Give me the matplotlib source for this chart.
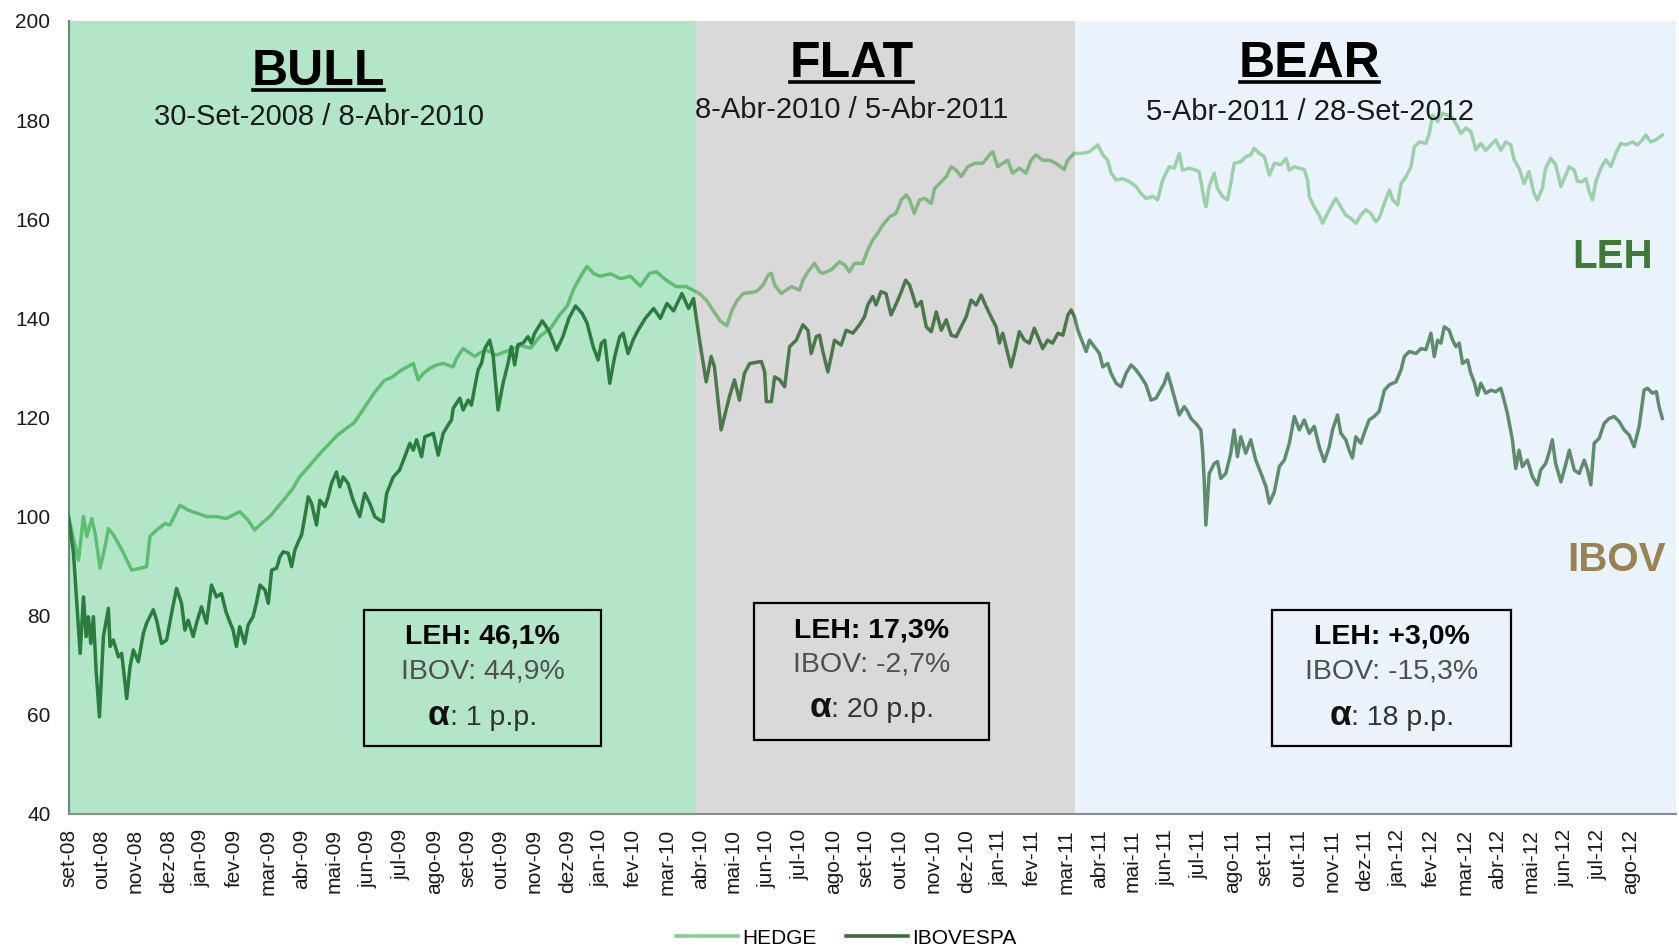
import matplotlib
matplotlib.use("Agg")
import matplotlib.pyplot as plt
from matplotlib import font_manager
from matplotlib.lines import Line2D
from matplotlib.patches import Rectangle

# x values are months since 30-Set-2008 (base 100)
hedge_m = [0.0, 0.3, 0.45, 0.55, 0.7, 0.8, 0.95, 1.1, 1.2, 1.35, 1.55, 1.7, 1.9, 2.1, 2.35, 2.45,
           2.65, 2.9, 3.05, 3.2, 3.35, 3.6, 3.85, 4.15, 4.45, 4.75, 5.15, 5.4, 5.6, 5.8, 6.05, 6.3,
           6.55, 6.75, 6.95, 7.15, 7.6, 8.1, 8.6, 8.9, 9.2, 9.5, 9.7, 10.0, 10.37, 10.52, 10.67,
           10.87, 11.07, 11.27, 11.57, 11.67, 11.87, 12.22, 12.37, 12.57, 12.87, 13.27, 13.6, 13.9,
           14.2, 14.5, 14.75, 15.0, 15.2, 15.45, 15.6, 15.8, 16.0, 16.3, 16.6, 16.9, 17.2, 17.48,
           17.68, 17.98, 18.28, 18.58, 18.78, 18.98, 19.18, 19.4, 19.6, 19.8, 19.95, 20.1, 20.29,
           20.69, 20.89, 21.04, 21.14, 21.24, 21.44, 21.59, 21.74, 21.99, 22.09, 22.24, 22.44,
           22.59, 22.69, 22.94, 23.19, 23.34, 23.49, 23.64, 23.89, 24.04, 24.19, 24.34, 24.49,
           24.7, 24.89, 25.05, 25.2, 25.3, 25.44, 25.6, 25.75, 25.95, 26.05, 26.2, 26.4, 26.55,
           26.7, 26.85, 27.05, 27.25, 27.5, 27.7, 27.8, 27.95, 28.1, 28.25, 28.4, 28.6, 28.8,
           28.95, 29.1, 29.3, 29.5, 29.7, 29.95, 30.05, 30.25, 30.5, 30.7, 30.96, 31.11, 31.26,
           31.36, 31.51, 31.71, 31.91, 32.11, 32.26, 32.41, 32.61, 32.76, 32.91, 33.11, 33.26,
           33.41, 33.51, 33.71, 33.91, 34.01, 34.16, 34.21, 34.31, 34.46, 34.56, 34.71, 34.86,
           34.96, 35.06, 35.26, 35.41, 35.56, 35.66, 35.82, 35.97, 36.12, 36.27, 36.47, 36.62,
           36.72, 36.87, 37.02, 37.17, 37.27, 37.32, 37.47, 37.62, 37.72, 37.87, 37.97, 38.12,
           38.27, 38.42, 38.57, 38.72, 38.87, 39.02, 39.17, 39.32, 39.42, 39.58, 39.73, 39.83,
           39.98, 40.08, 40.23, 40.38, 40.48, 40.63, 40.83, 40.93, 41.03, 41.18, 41.33, 41.48,
           41.63, 41.78, 41.88, 42.03, 42.18, 42.33, 42.48, 42.63, 42.78, 42.93, 43.08, 43.23,
           43.38, 43.48, 43.63, 43.78, 43.93, 44.08, 44.18, 44.33, 44.43, 44.58, 44.73, 44.89,
           44.99, 45.14, 45.29, 45.39, 45.54, 45.64, 45.74, 45.84, 45.94, 46.09, 46.24, 46.39,
           46.54, 46.69, 46.84, 47.04, 47.19, 47.34, 47.44, 47.59, 47.74, 47.94]
hedge_v = [100, 91.2, 100, 96, 99.6, 96.6, 89.6, 94, 97.6, 96.3, 94, 92, 89.2, 89.5, 89.9, 96,
           97.3, 98.6, 98.3, 100.3, 102.3, 101.3, 100.7, 100, 100, 99.6, 101, 99.3, 97.3, 98.6, 100,
           102, 104, 105.7, 108, 109.5, 113, 116.5, 119, 122, 125, 127.5, 128, 129.5, 130.9, 127.6,
           128.9, 129.9, 130.6, 130.9, 130.2, 131.9, 133.9, 132.3, 133, 133.6, 132.6, 133.6, 134.5,
           134, 136.5, 138, 140.5, 142.5, 146, 149, 150.5, 149, 148.5, 149, 148, 148.5, 146.5,
           149.1, 149.4, 147.7, 146.4, 146.4, 145.7, 145, 143.7, 141.5, 139.5, 138.5, 141.5, 143.5,
           145, 145.4, 146.7, 148.7, 149.1, 146.7, 145, 145.7, 146.4, 145.7, 147.7, 149.4, 151.1,
           149.4, 149.1, 149.8, 151.4, 150.8, 149.4, 151.1, 151.1, 153.8, 155.8, 157.2, 158.8,
           160.5, 161.2, 163.9, 164.9, 163.9, 161.2, 163.9, 164.2, 163.2, 166.2, 167.2, 168.6,
           170.6, 169.9, 168.6, 170.6, 171.3, 171.3, 173, 173.6, 170.6, 171.3, 171.9, 169.3, 170.3,
           169.3, 171.9, 173, 171.9, 171.9, 171.3, 170, 171.9, 173.3, 173.3, 173.6, 175, 173,
           171.9, 169.3, 167.9, 168.2, 167.6, 166.6, 165.2, 164.2, 164.6, 163.9, 167.9, 170.6,
           170.3, 173.3, 169.9, 170.3, 169.9, 169.6, 163.9, 162.5, 166.6, 169.3, 166.2, 164.6,
           163.9, 167.2, 171.3, 171.6, 172.6, 173, 174.3, 173.3, 172.6, 168.9, 171.3, 171, 172.3,
           169.9, 170.6, 170.3, 170, 167.9, 164.6, 162.5, 160.8, 159.2, 161.2, 162.5, 164.2,
           162.5, 160.8, 160.2, 159.2, 160.8, 161.9, 161.2, 159.5, 160.2, 163.2, 165.9, 163.9,
           162.9, 167.2, 168.6, 170.6, 174.6, 175.6, 175.3, 177.3, 181, 179.7, 181.4, 181, 180.4,
           178.7, 177.3, 178.4, 177.7, 174, 175.3, 173.9, 175, 176, 173.9, 175.6, 175, 172, 170.3,
           167.2, 169.6, 165.2, 163.9, 166.2, 170.3, 172.3, 171, 166.6, 168.2, 170.6, 169.9, 167.6,
           167.6, 168.2, 165.6, 163.9, 167.6, 170.3, 172, 170.6, 173.3, 175.3, 175, 175.6, 175,
           176, 177, 175.6, 176, 177]

ibov_m = [0.0, 0.15, 0.35, 0.45, 0.53, 0.6, 0.67, 0.75, 0.83, 0.93, 1.05, 1.2, 1.25, 1.35, 1.5,
          1.6, 1.75, 1.85, 1.95, 2.1, 2.25, 2.35, 2.55, 2.65, 2.8, 2.95, 3.1, 3.25, 3.4, 3.5, 3.6,
          3.75, 3.85, 4.0, 4.15, 4.3, 4.45, 4.6, 4.75, 4.95, 5.05, 5.15, 5.3, 5.4, 5.55, 5.65, 5.76,
          5.91, 6.01, 6.11, 6.26, 6.36, 6.46, 6.61, 6.71, 6.81, 6.91, 7.01, 7.11, 7.21, 7.31, 7.46,
          7.56, 7.71, 7.81, 7.91, 8.06, 8.16, 8.26, 8.41, 8.56, 8.76, 8.91, 9.06, 9.21, 9.36, 9.46,
          9.57, 9.77, 9.96, 10.27, 10.37, 10.47, 10.62, 10.72, 10.97, 11.12, 11.27, 11.42, 11.52,
          11.57, 11.77, 11.87, 12.02, 12.12, 12.22, 12.32, 12.42, 12.52, 12.67, 12.77, 12.92,
          13.07, 13.22, 13.32, 13.42, 13.52, 13.67, 13.82, 13.92, 14.02, 14.25, 14.45, 14.68,
          14.87, 15.05, 15.25, 15.45, 15.6, 15.78, 15.93, 16.03, 16.13, 16.28, 16.43, 16.58,
          16.68, 16.83, 16.98, 17.13, 17.35, 17.6, 17.8, 18.0, 18.2, 18.45, 18.65, 18.8, 18.98,
          19.18, 19.33, 19.43, 19.63, 19.73, 19.88, 20.03, 20.18, 20.33, 20.49, 20.84, 20.94,
          20.99, 21.14, 21.24, 21.39, 21.54, 21.69, 21.89, 22.09, 22.24, 22.34, 22.49, 22.59,
          22.69, 22.84, 22.94, 23.04, 23.24, 23.39, 23.59, 23.79, 23.94, 24.04, 24.19, 24.29,
          24.44, 24.59, 24.74, 24.9, 25.05, 25.18, 25.3, 25.5, 25.65, 25.8, 25.95, 26.1, 26.25,
          26.4, 26.55, 26.7, 26.85, 27.0, 27.15, 27.3, 27.45, 27.6, 27.75, 27.9, 28.0, 28.1, 28.2,
          28.35, 28.45, 28.6, 28.75, 28.9, 29.05, 29.2, 29.3, 29.45, 29.6, 29.76, 29.91, 30.06,
          30.16, 30.26, 30.36, 30.51, 30.61, 30.71, 31.01, 31.11, 31.26, 31.36, 31.51, 31.66,
          31.81, 31.96, 32.11, 32.26, 32.41, 32.56, 32.71, 32.96, 33.06, 33.16, 33.31, 33.41,
          33.56, 33.66, 33.76, 33.91, 34.06, 34.11, 34.16, 34.21, 34.31, 34.46, 34.56, 34.66,
          34.81, 34.96, 35.06, 35.16, 35.26, 35.41, 35.56, 35.71, 35.87, 36.02, 36.12, 36.27,
          36.42, 36.57, 36.72, 36.87, 37.02, 37.17, 37.32, 37.47, 37.62, 37.77, 37.92, 38.02,
          38.17, 38.27, 38.42, 38.52, 38.62, 38.72, 38.87, 38.97, 39.12, 39.27, 39.42, 39.58,
          39.73, 39.93, 40.08, 40.18, 40.33, 40.53, 40.68, 40.83, 40.98, 41.08, 41.18, 41.28,
          41.38, 41.53, 41.63, 41.73, 41.83, 41.93, 42.08, 42.18, 42.28, 42.38, 42.48, 42.63,
          42.78, 42.93, 43.08, 43.18, 43.28, 43.43, 43.53, 43.63, 43.73, 43.88, 44.03, 44.18,
          44.28, 44.43, 44.53, 44.63, 44.73, 44.89, 45.04, 45.14, 45.29, 45.44, 45.59, 45.69,
          45.79, 45.89, 46.04, 46.19, 46.34, 46.49, 46.64, 46.79, 46.94, 47.09, 47.24, 47.39,
          47.49, 47.64, 47.76, 47.84, 47.94]
ibov_v = [100, 92.6, 72.4, 83.8, 75.8, 79.8, 74.4, 79.8, 69, 59.6, 75.8, 81.5, 73.8, 75.1, 71.7,
          72.4, 63.3, 69.7, 73.1, 70.7, 76.4, 78.5, 81.2, 79.1, 74.4, 75.1, 80.5, 85.5, 82.5, 77.1,
          79.1, 75.8, 78.5, 81.8, 78.5, 86.2, 83.8, 84.5, 80.5, 77.1, 73.8, 77.8, 74.4, 78.1, 79.8,
          82.5, 86.2, 85.2, 82.5, 89.2, 89.6, 91.9, 92.9, 92.6, 89.9, 93.3, 94.9, 96.3, 100, 104,
          102.7, 98.3, 103.3, 102, 104, 106.7, 109, 106, 108, 106.7, 103.3, 100, 104.7, 102.7, 100,
          99.3, 99, 104.7, 108, 109.4, 114.8, 113.4, 115.5, 112.1, 116.1, 116.8, 112.4, 116.8,
          118.5, 119.5, 121.8, 123.9, 121.5, 123.5, 122.5, 126.2, 129.6, 130.9, 133.9, 135.6,
          132.6, 121.5, 126.9, 130.9, 134.3, 130.6, 134.7, 135, 136.3, 135, 137, 139.5, 137.5,
          133.6, 136.3, 140, 142.5, 141, 139, 134.3, 131.6, 135, 135.6, 126.9, 132.3, 136.3, 137,
          132.9, 135.6, 137.6, 140, 142, 140, 143, 141.5, 145, 142, 144, 135.6, 127.2, 132.3,
          130.2, 117.5, 120.2, 124.2, 127.6, 123.5, 128.9, 130.9, 131.3, 129.2, 123.2, 123.2,
          128.2, 127.6, 126.2, 134.3, 135.6, 138.7, 137.6, 132.9, 136.3, 136.6, 133.3, 129.2,
          132.3, 135.6, 134.6, 137.6, 137, 138.7, 140.3, 142.7, 144.4, 142.7, 145.4, 145, 140.7,
          143, 145.4, 147.7, 146.7, 142.4, 143.4, 138.3, 137.3, 141.3, 137.6, 139.7, 136.6, 136.3,
          138.3, 140.3, 143.7, 142.7, 144.7, 142.4, 140.3, 138.3, 135, 137, 134.3, 130.2, 132.9,
          137.3, 135.6, 135, 138, 135.6, 133.9, 135.6, 135, 137, 136.6, 140.7, 141.7, 140.3,
          137.6, 135, 133.3, 135.6, 132.9, 130.2, 130.9, 128.9, 126.9, 126.2, 128.9, 130.6,
          129.6, 128.2, 126.6, 123.5, 123.9, 126.9, 128.9, 126.6, 122.9, 120.5, 122.2, 121.2,
          119.8, 118.8, 117.5, 113.4, 107.4, 98.3, 108.7, 110.7, 111.1, 107.7, 108.7, 112.8,
          117.5, 112.1, 116.1, 112.8, 115.5, 111.4, 108.7, 106, 102.7, 105, 110.1, 111.4, 114.8,
          120.2, 117.5, 119.5, 116.8, 118.2, 114.1, 111.1, 114.1, 117.5, 120.5, 116.8, 115.5,
          113.4, 111.8, 116.1, 114.8, 116.8, 119.5, 120.2, 121.2, 125.5, 126.6, 127.2, 129.6,
          132.3, 133.3, 132.9, 133.9, 133.7, 137, 132.3, 135.6, 135, 138.3, 137.6, 135.6, 134.3,
          135, 130.9, 131.6, 128.9, 127.2, 124.5, 126.9, 124.9, 125.5, 125.2, 125.9, 123.5, 120.8,
          115.5, 109.7, 113.4, 110.1, 111.4, 108.1, 106.4, 109.4, 110.7, 112.8, 115.5, 110.7, 107,
          110.7, 113.4, 109.4, 108.7, 111.4, 109.4, 106.4, 114.8, 115.8, 118.8, 119.8, 120.2,
          119.2, 117.5, 116.5, 114.1, 118.1, 125.5, 125.9, 124.9, 125.2, 122.2, 119.8]

tick_labels = ['set-08', 'out-08', 'nov-08', 'dez-08',
               'jan-09', 'fev-09', 'mar-09', 'abr-09', 'mai-09', 'jun-09', 'jul-09', 'ago-09',
               'set-09', 'out-09', 'nov-09', 'dez-09',
               'jan-10', 'fev-10', 'mar-10', 'abr-10', 'mai-10', 'jun-10', 'jul-10', 'ago-10',
               'set-10', 'out-10', 'nov-10', 'dez-10',
               'jan-11', 'fev-11', 'mar-11', 'abr-11', 'mai-11', 'jun-11', 'jul-11', 'ago-11',
               'set-11', 'out-11', 'nov-11', 'dez-11',
               'jan-12', 'fev-12', 'mar-12', 'abr-12', 'mai-12', 'jun-12', 'jul-12', 'ago-12']

# market phases: name, period, start / end (months), background, hedge colour, ibov colour
phase_names = ['BULL', 'FLAT', 'BEAR']
phase_dates = ['30-Set-2008 / 8-Abr-2010', '8-Abr-2010 / 5-Abr-2011', '5-Abr-2011 / 28-Set-2012']
phase_edges = [0.0, 18.88, 30.26, 48.35]
phase_bg = ['#B3E6C8', '#D9D9D9', '#EAF3FB']
phase_hedge = ['#5DBE72', '#82B782', '#9CD0AA']
phase_ibov = ['#2A7D3E', '#4B784B', '#5F8C6C']

box_leh = ['LEH: 46,1%', 'LEH: 17,3%', 'LEH: +3,0%']
box_ibov = ['IBOV: 44,9%', 'IBOV: -2,7%', 'IBOV: -15,3%']
box_alpha = [': 1 p.p.', ': 20 p.p.', ': 18 p.p.']

names = {f.name for f in font_manager.fontManager.ttflist}
NARROW = 'Liberation Sans Narrow' in names
BASE = 'Liberation Sans'
BOX_FONT = 'Liberation Sans Narrow' if NARROW else BASE
BOX_SIZE = 24 if NARROW else 20.5
plt.rcParams['font.family'] = [BASE, 'DejaVu Sans']

fig = plt.figure(figsize=(16.79, 9.5), dpi=100)
ax = fig.add_axes([0.0408, 0.1432, 0.9574, 0.8347])
ax.set_xlim(0, 48.35)
ax.set_ylim(40, 200)

for i in range(3):
    span = ax.axvspan(phase_edges[i], phase_edges[i + 1], color=phase_bg[i], lw=0, zorder=0)
    l1, = ax.plot(hedge_m, hedge_v, color=phase_hedge[i], lw=2.5, zorder=2)
    l2, = ax.plot(ibov_m, ibov_v, color=phase_ibov[i], lw=2.5, zorder=3)
    l1.set_clip_path(span)
    l2.set_clip_path(span)

# phase headings
title_x = [7.52, 23.55, 37.33]
title_y = [187.0, 188.6, 188.6]
sub_y = [179.0, 180.5, 180.1]
titles = []
for i in range(3):
    t = ax.text(title_x[i], title_y[i], phase_names[i], ha='center', va='baseline',
                fontsize=36, fontweight='bold', color='black', zorder=5)
    titles.append(t)
    ax.text(title_x[i], sub_y[i], phase_dates[i], ha='center', va='baseline',
            fontsize=21, color='#1a1a1a', zorder=5)

# result boxes
box_x = [(8.88, 16.03), (20.63, 27.7), (36.2, 43.4)]
box_y = [(53.7, 81.2), (54.9, 82.6), (53.7, 81.2)]
line_y = [(75.9, 68.7, 58.0), (77.1, 70.1, 59.5), (75.9, 68.7, 58.0)]
alpha_parts = []
for i in range(3):
    x0, x1 = box_x[i]
    y0, y1 = box_y[i]
    ax.add_patch(Rectangle((x0, y0), x1 - x0, y1 - y0, fill=False, ec='black', lw=1.6, zorder=5))
    cx = (x0 + x1) / 2
    ax.text(cx, line_y[i][0], box_leh[i], ha='center', va='center', family=BOX_FONT,
            fontsize=BOX_SIZE, fontweight='bold', color='black', zorder=6)
    ax.text(cx, line_y[i][1], box_ibov[i], ha='center', va='center', family=BOX_FONT,
            fontsize=BOX_SIZE, color='#4f4f4f', zorder=6)
    a = ax.text(cx, line_y[i][2], 'α', ha='left', va='baseline', fontsize=BOX_SIZE + 5,
                fontweight='bold', color='#111111', zorder=6)
    r = ax.text(cx, line_y[i][2], box_alpha[i], ha='left', va='baseline', family=BOX_FONT,
                fontsize=BOX_SIZE, color='#333333', zorder=6)
    alpha_parts.append((cx, line_y[i][2], a, r))

ax.text(47.66, 150.2, 'LEH', ha='right', va='baseline', fontsize=29, fontweight='bold',
        color='#3F7A37', zorder=5)
ax.text(48.05, 89.0, 'IBOV', ha='right', va='baseline', fontsize=29, fontweight='bold',
        color='#998253', zorder=5)

# axes styling
for side in ['top', 'right']:
    ax.spines[side].set_visible(False)
ax.spines['left'].set_color('#6a8a78')
ax.spines['left'].set_linewidth(1.5)
ax.spines['bottom'].set_color('#8c8c8c')
ax.spines['bottom'].set_linewidth(1.5)
ax.set_yticks(range(40, 201, 20))
ax.set_xticks(range(len(tick_labels)))
ax.set_xticklabels(tick_labels, rotation=90)
ax.tick_params(axis='y', length=0, pad=13, labelsize=15, labelcolor='#1a1a1a')
ax.tick_params(axis='x', length=0, pad=11, labelsize=15, labelcolor='#1a1a1a')

# underline the phase headings, centre the alpha lines
fig.canvas.draw()
for t in titles:
    bb = t.get_window_extent()
    bx, by = ax.transData.transform((0, t.get_position()[1]))
    y_line = by - 5
    (fx0, fy), (fx1, _) = fig.transFigure.inverted().transform([(bb.x0 + 1, y_line), (bb.x1 - 1, y_line)])
    fig.add_artist(Line2D([fx0, fx1], [fy, fy], color='black', lw=2.6, zorder=6))

inv = ax.transData.inverted()
for cx, ly, a, r in alpha_parts:
    wa = a.get_window_extent().width
    wr = r.get_window_extent().width
    px, py = ax.transData.transform((cx, ly))
    start = px - (wa + wr) / 2
    a.set_position(inv.transform((start, py)))
    r.set_position(inv.transform((start + wa, py)))

handles = [Line2D([], [], color='#8CC98C', lw=2.6), Line2D([], [], color='#3D6B3D', lw=2.6)]
fig.legend(handles, ['HEDGE', 'IBOVESPA'], loc='center', bbox_to_anchor=(0.504, 0.0126),
           ncol=2, frameon=False, fontsize=15, handlelength=3, handletextpad=0.2,
           columnspacing=1.4)

fig.savefig('out.png', dpi=100)
